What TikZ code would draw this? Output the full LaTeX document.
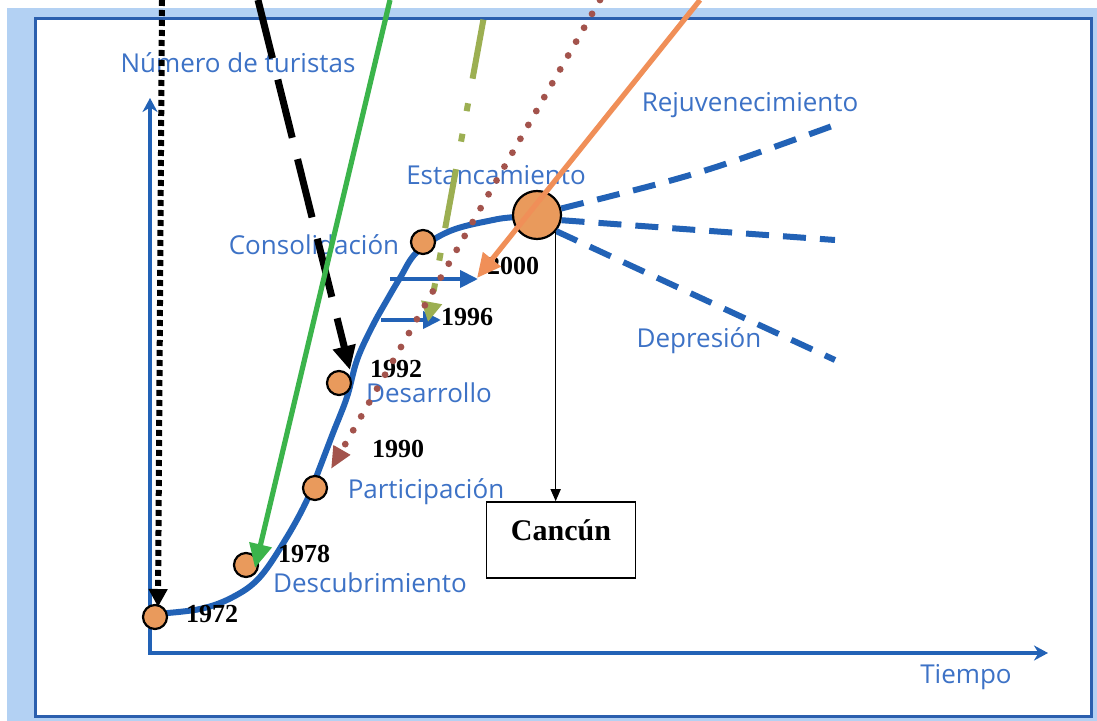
\documentclass[tikz,border=0pt]{standalone}
\usepackage{fontspec}
\setmainfont{Liberation Serif}
\newfontfamily\labfont{Open Sans}
\usetikzlibrary{arrows.meta}
\definecolor{band}{HTML}{B3D1F3}
\definecolor{frameblue}{HTML}{2B5FAE}
\definecolor{axisblue}{HTML}{2262B6}
\definecolor{labblue}{HTML}{3D72C6}
\definecolor{dotorange}{HTML}{E99A5C}
\definecolor{arrgreen}{HTML}{3BB44B}
\definecolor{arrolive}{HTML}{9CAF52}
\definecolor{arrbrown}{HTML}{A3534C}
\definecolor{arrorange}{HTML}{F08F58}
\begin{document}
\begin{tikzpicture}[x=0.5pt,y=-0.5pt,
  stage/.style={text=labblue,font=\labfont\fontsize{13}{15}\selectfont,anchor=base,inner sep=0pt},
  year/.style={font=\bfseries\fontsize{13}{15}\selectfont,anchor=base,inner sep=0pt},
  dot/.style={circle,draw=black,line width=1.1pt,fill=dotorange,minimum size=12pt,inner sep=0pt},
  bigdot/.style={dot,minimum size=24pt},
  axis/.style={axisblue,line width=2pt,{Stealth[length=7pt,width=7.5pt]}-{Stealth[length=7pt,width=7.5pt]}},
  lifecurve/.style={axisblue,line width=3pt,line join=round},
  future/.style={axisblue,line width=3pt,dash pattern=on 11.5pt off 7pt},
  shortarrow/.style={axisblue,line width=2pt,-{Triangle[length=9pt,width=8.5pt]}},
  citybox/.style={draw=black,line width=0.8pt,minimum width=74.5pt,minimum height=38pt,inner sep=0pt,
    font=\bfseries\fontsize{15}{17}\selectfont,text height=6pt,text depth=6pt},
  thinarrow/.style={black,line width=0.7pt,-{Triangle[length=6pt,width=5pt]}},
  blackdots/.style={black,line width=3pt,dash pattern=on 3pt off 2pt,-{Triangle[length=9pt,width=9pt]}},
  blackdash/.style={black,line width=3.5pt,dash pattern=on 30pt off 11pt,-{Triangle[length=12pt,width=11pt]}},
  greenarrow/.style={arrgreen,line width=2.6pt,-{Triangle[length=12pt,width=11pt]}},
  olivearrow/.style={arrolive,line width=3pt,dash pattern=on 30pt off 12.5pt on 4pt off 11.5pt on 4pt off 14pt,dash phase=66pt,-{Triangle[length=10pt,width=10pt]}},
  brownarrow/.style={arrbrown,line width=3.4pt,line cap=round,dash pattern=on 0pt off 8pt,-{Triangle[length=11pt,width=9pt]}},
  orangearrow/.style={arrorange,line width=2.6pt,-{Triangle[length=12pt,width=11pt]}}
]
\useasboundingbox (0,0) rectangle (1097,721);
\fill[white] (0,0) rectangle (1097,721);
\fill[band] (7,8) rectangle (1097,721);
\draw[frameblue,line width=1.5pt,fill=white] (35,19) rectangle (1091,716);

% axes
\coordinate (origin) at (150,653);
\coordinate (ytop) at (150,98);
\coordinate (xend) at (1048,653);
\draw[axis] (ytop) -- (origin) -- (xend);

% life cycle curve
\draw[lifecurve] plot[smooth,tension=0.6] coordinates {(155,614) (200,609) (233,597) (260,577) (287,537) (307,500) (320,467) (333,433) (347,397) (357,360) (372,327) (387,300) (400,278) (417,252) (450,231) (493,220) (515,217) (537,215)};

% short blue arrows
\coordinate (a1s) at (390,279);
\coordinate (a1e) at (478,279);
\coordinate (a2s) at (381,320);
\coordinate (a2e) at (441,320);
\draw[shortarrow] (a1s) -- (a1e);
\draw[shortarrow] (a2s) -- (a2e);

% stage points
\node[dot] (c72) at (155,617) {};
\node[dot] (c78) at (246,565) {};
\node[dot] (cpar) at (315,488) {};
\node[dot] (c92) at (339,383) {};
\node[dot] (ccon) at (423,242) {};
\node[bigdot] (big) at (537,215) {};

% future scenarios
\coordinate (rej) at (835,125);
\coordinate (est) at (835,240);
\coordinate (dep) at (835,360);
\draw[future] (big.15) .. controls (700,174) .. (rej);
\draw[future] (big.-12) -- (est);
\draw[future] (big.-40) -- (dep);

% Cancun box
\node[citybox] (cancun) at (561,540) {Cancún};
\draw[thinarrow] (big.-42) -- (big.-42 |- cancun.north);

% labels
\node[stage] (lnum) at (238,73) {Número de turistas};
\node[stage] (lrej) at (750,112) {Rejuvenecimiento};
\node[stage] (lest) at (496,185) {Estancamiento};
\node[stage] (lcon) at (314,255) {Consolidación};
\node[stage] (ldep) at (699,348) {Depresión};
\node[stage] (ldes) at (429,402) {Desarrollo};
\node[stage] (lpar) at (426,498) {Participación};
\node[stage] (ldsc) at (370,592) {Descubrimiento};
\node[stage] (ltie) at (966,683) {Tiempo};

\node[year] (y72) at (212,622) {1972};
\node[year] (y78) at (304,562) {1978};
\node[year] (y90) at (398,457) {1990};
\node[year] (y92) at (396,378) {1992};
\node[year] (y96) at (467,326) {1996};
\node[year] (y00) at (513,275) {2000};

% incoming arrows
\coordinate (s1) at (162,0);  \coordinate (e1) at (158,607);
\coordinate (s2) at (258,0);  \coordinate (e2) at (350,370);
\coordinate (s3) at (390,0);  \coordinate (e3) at (255,568);
\coordinate (s4) at (487,0);  \coordinate (e4) at (428,322);
\coordinate (s5) at (600,0);  \coordinate (e5) at (331,469);
\coordinate (s6) at (700,0);  \coordinate (e6) at (477,278);
\draw[blackdots] (s1) -- (e1);
\draw[blackdash] (s2) -- (e2);
\draw[greenarrow] (s3) -- (e3);
\draw[olivearrow] (s4) -- (e4);
\draw[brownarrow] (s5) -- (e5);
\draw[orangearrow] (s6) -- (e6);
\end{tikzpicture}
\end{document}
